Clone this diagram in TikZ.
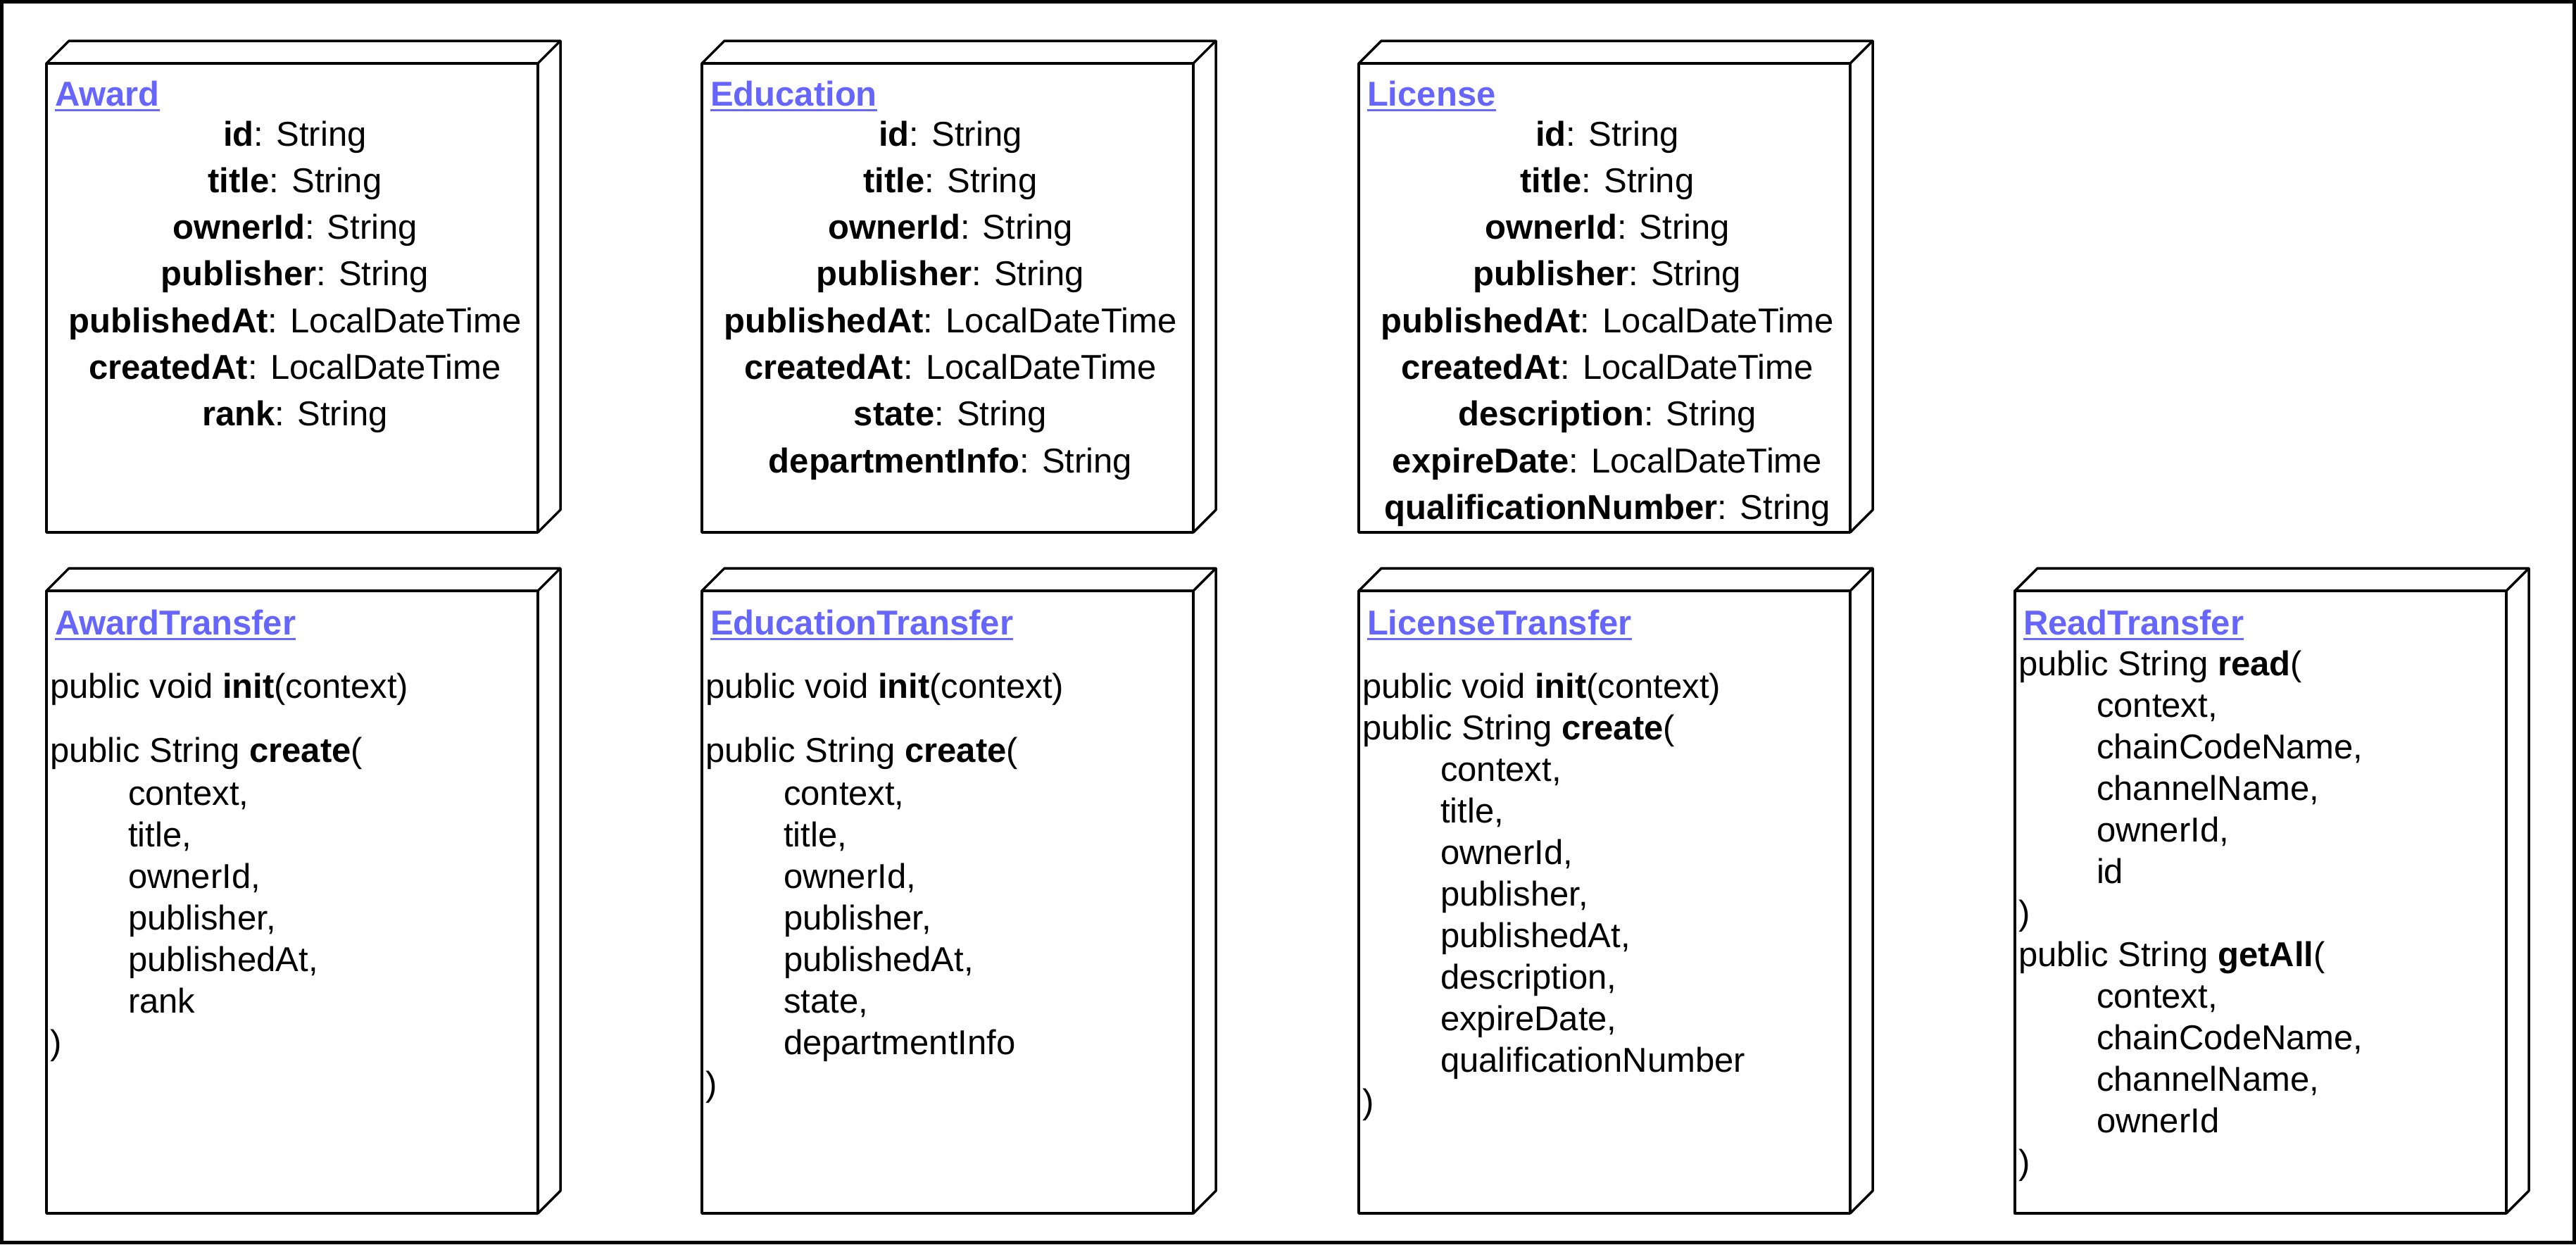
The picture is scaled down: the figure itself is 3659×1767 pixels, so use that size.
\documentclass[tikz,border=0pt]{standalone}
\usepackage{fontspec}
\setmainfont{Liberation Sans}
\usetikzlibrary{calc}
\definecolor{linkblue}{RGB}{102,102,255}
\tikzset{
  face/.style={draw=black, line width=3.5pt, fill=white, minimum width=698pt, inner sep=0pt, outer sep=0pt, anchor=north west, line join=round},
  edge3d/.style={draw=black, line width=3.5pt, line join=round},
  txt/.style={inner sep=0pt, outer sep=0pt, font={\fontsize{49}{59}\selectfont}, text=black},
  ttl/.style={inner sep=0pt, outer sep=0pt, font={\fontsize{49}{59}\selectfont\bfseries}, text=linkblue},
  uline/.style={draw=linkblue, line width=3pt},
  frame/.style={draw=black, line width=5pt}
}
\newcommand\umlnode[4]{% name, x, y, height
  \node[face, minimum height=#4pt] (#1) at (#2,#3) {};
  \draw[edge3d] (#1.north west) -- ++(32,-32) -- ++(698,0) -- ++(0,#4) -- (#1.south east);
  \draw[edge3d] (#1.north east) -- ++(32,-32);
}
\newcommand\umltitle[4]{% name, x, y, text
  \node[ttl, anchor=base west] (#1) at (#2,#3) {#4};
  \draw[uline] ([yshift=-6pt]#1.base west) -- ([yshift=-6pt]#1.base east);
}
\newcommand\attrlist[4]{% prefix, cx, y0, list
  \foreach \itm [count=\k from 0] in {#4} {
    \node[txt, anchor=base] (#1-\k) at (#2, #3+66.3*\k) {\itm};
  }
}
\newcommand\paramlist[4]{% prefix, x, y0, list
  \foreach \itm [count=\k from 0] in {#4} {
    \node[txt, anchor=base west] (#1-\k) at (#2, #3+59*\k) {\itm};
  }
}
\newcommand\codeline[4]{% name, x, y, text
  \node[txt, anchor=base west] (#1) at (#2,#3) {#4};
}
\begin{document}
\begin{tikzpicture}[x=1pt,y=-1pt]
\useasboundingbox (0,0) rectangle (3659,1767);
\fill[white] (0,0) rectangle (3659,1767);
\draw[frame] (2.5,2.5) rectangle (3656.5,1764.5);

% ---------- top row ----------
\umlnode{award}{66}{90}{666}
\umlnode{education}{997}{90}{666}
\umlnode{license}{1930}{90}{666}

\umltitle{award-t}{78}{150}{Award}
\umltitle{education-t}{1009}{150}{Education}
\umltitle{license-t}{1942}{150}{License}

\attrlist{award-a}{419}{207}{{\textbf{id}: String},{\textbf{title}: String},{\textbf{ownerId}: String},{\textbf{publisher}: String},{\textbf{publishedAt}: LocalDateTime},{\textbf{createdAt}: LocalDateTime},{\textbf{rank}: String}}
\attrlist{education-a}{1350}{207}{{\textbf{id}: String},{\textbf{title}: String},{\textbf{ownerId}: String},{\textbf{publisher}: String},{\textbf{publishedAt}: LocalDateTime},{\textbf{createdAt}: LocalDateTime},{\textbf{state}: String},{\textbf{departmentInfo}: String}}
\attrlist{license-a}{2283}{207}{{\textbf{id}: String},{\textbf{title}: String},{\textbf{ownerId}: String},{\textbf{publisher}: String},{\textbf{publishedAt}: LocalDateTime},{\textbf{createdAt}: LocalDateTime},{\textbf{description}: String},{\textbf{expireDate}: LocalDateTime},{\textbf{qualificationNumber}: String}}

% ---------- bottom row ----------
\umlnode{awardtr}{66}{839}{884}
\umlnode{educationtr}{997}{839}{884}
\umlnode{licensetr}{1930}{839}{884}
\umlnode{readtr}{2862}{839}{884}

% AwardTransfer
\umltitle{awardtr-t}{78}{901}{AwardTransfer}
\codeline{awardtr-init}{71}{991}{public void \textbf{init}(context)}
\codeline{awardtr-create}{71}{1082}{public String \textbf{create}(}
\paramlist{awardtr-p}{182}{1143}{{context,},{title,},{ownerId,},{publisher,},{publishedAt,},{rank}}
\codeline{awardtr-close}{71}{1497}{)}

% EducationTransfer
\umltitle{educationtr-t}{1009}{901}{EducationTransfer}
\codeline{educationtr-init}{1002}{991}{public void \textbf{init}(context)}
\codeline{educationtr-create}{1002}{1082}{public String \textbf{create}(}
\paramlist{educationtr-p}{1113}{1143}{{context,},{title,},{ownerId,},{publisher,},{publishedAt,},{state,},{departmentInfo}}
\codeline{educationtr-close}{1002}{1556}{)}

% LicenseTransfer
\umltitle{licensetr-t}{1942}{901}{LicenseTransfer}
\codeline{licensetr-init}{1935}{991}{public void \textbf{init}(context)}
\codeline{licensetr-create}{1935}{1050}{public String \textbf{create}(}
\paramlist{licensetr-p}{2046}{1109}{{context,},{title,},{ownerId,},{publisher,},{publishedAt,},{description,},{expireDate,},{qualificationNumber}}
\codeline{licensetr-close}{1935}{1581}{)}

% ReadTransfer
\umltitle{readtr-t}{2874}{901}{ReadTransfer}
\codeline{readtr-read}{2867}{959}{public String \textbf{read}(}
\paramlist{readtr-p1}{2978}{1018}{{context,},{chainCodeName,},{channelName,},{ownerId,},{id}}
\codeline{readtr-close1}{2867}{1313}{)}
\codeline{readtr-getall}{2867}{1372}{public String \textbf{getAll}(}
\paramlist{readtr-p2}{2978}{1431}{{context,},{chainCodeName,},{channelName,},{ownerId}}
\codeline{readtr-close2}{2867}{1667}{)}
\end{tikzpicture}
\end{document}
